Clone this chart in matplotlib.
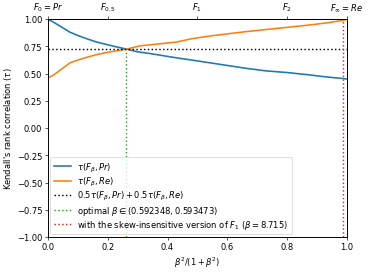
import matplotlib
matplotlib.use("Agg")
import matplotlib.pyplot as plt
import numpy as np

# curves (x = beta^2 / (1 + beta^2))
x_pr = [0.0, 0.02, 0.05, 0.074, 0.10, 0.13, 0.163, 0.20, 0.23, 0.263, 0.30, 0.34, 0.385,
        0.43, 0.48, 0.54, 0.60, 0.66, 0.73, 0.80, 0.87, 0.93, 0.987, 1.0]
tau_pr = [1.0, 0.97, 0.92, 0.88, 0.85, 0.82, 0.79, 0.765, 0.745, 0.725, 0.70, 0.685, 0.665,
          0.645, 0.625, 0.60, 0.575, 0.55, 0.525, 0.51, 0.49, 0.47, 0.455, 0.45]
x_re = [0.0, 0.02, 0.05, 0.074, 0.10, 0.13, 0.163, 0.20, 0.23, 0.263, 0.308, 0.36, 0.43,
        0.48, 0.54, 0.60, 0.66, 0.73, 0.80, 0.87, 0.93, 0.99, 1.0]
tau_re = [0.46, 0.49, 0.55, 0.60, 0.625, 0.65, 0.675, 0.695, 0.71, 0.725, 0.755, 0.77, 0.79,
          0.82, 0.845, 0.865, 0.885, 0.905, 0.925, 0.945, 0.965, 0.99, 1.0]

avg_tau = 0.727
beta_opt = (0.592348, 0.593473)
beta_skew = 8.715

top_ticks = [0.0, 0.2, 0.5, 0.8, 1.0]
top_labels = [r"$F_0 = Pr$", r"$F_{0.5}$", r"$F_1$", r"$F_2$", r"$F_\infty = Re$"]

plt.rcParams["font.size"] = 10.5
plt.rcParams["axes.linewidth"] = 1.2

# default 6.4x4.8 figure, rendered small
fig, ax = plt.subplots(figsize=(6.4, 4.8), dpi=369 / 6.4)

ax.plot(x_pr, tau_pr, color="tab:blue", lw=2, label=r"$\tau(F_\beta, Pr)$")
ax.plot(x_re, tau_re, color="tab:orange", lw=2, label=r"$\tau(F_\beta, Re)$")
ax.axhline(avg_tau, color="black", linestyle=":", lw=1.8,
           label=r"$0.5\tau(F_\beta, Pr) + 0.5\tau(F_\beta, Re)$")

b = np.mean(beta_opt)
x_opt = b ** 2 / (1 + b ** 2)
ax.plot([x_opt, x_opt], [-1, avg_tau], color="tab:green", linestyle=":", lw=1.8,
        label=r"optimal $\beta \in (0.592348, 0.593473)$")
x_skew = beta_skew ** 2 / (1 + beta_skew ** 2)
ax.axvline(x_skew, color="tab:red", linestyle=":", lw=1.8,
           label=r"with the skew-insensitive version of $F_1$ ($\beta = 8.715$)")

ax.set_xlim(0, 1)
ax.set_ylim(-1, 1)
ax.set_yticks(np.arange(-1, 1.01, 0.25))
ax.set_xlabel(r"$\beta^2/(1 + \beta^2)$")
ax.set_ylabel(r"Kendall's rank correlation ($\tau$)")
ax.legend(loc="lower left", labelspacing=0.15, borderaxespad=0.3)

top = ax.secondary_xaxis("top")
top.set_xticks(top_ticks)
top.set_xticklabels(top_labels)

fig.subplots_adjust(left=0.13, right=0.94, top=0.928, bottom=0.141)
fig.savefig("out.png")
